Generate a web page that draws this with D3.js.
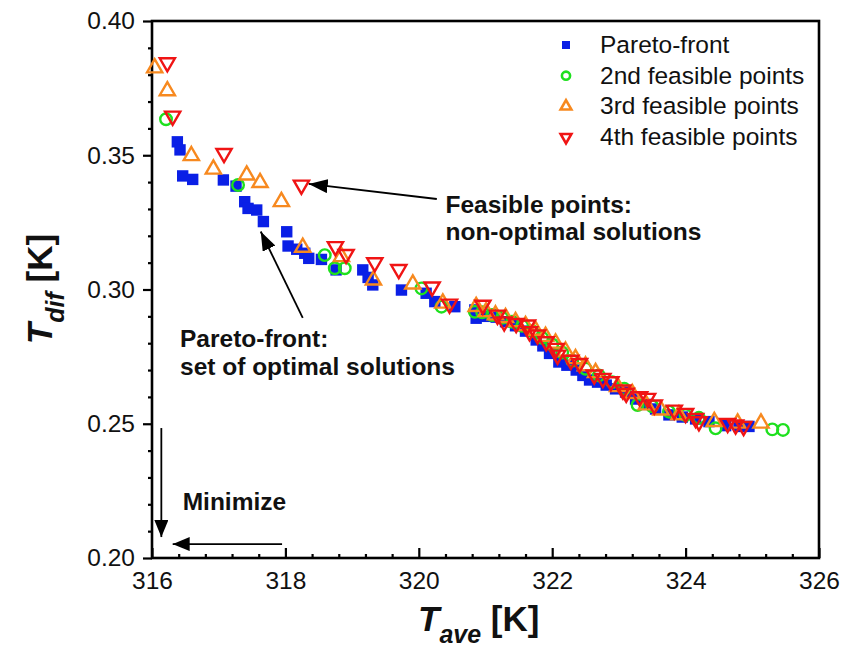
<!DOCTYPE html>
<html>
<head>
<meta charset="utf-8">
<script src="https://cdn.jsdelivr.net/npm/d3@7/dist/d3.min.js"></script>
<style>
  html, body { margin: 0; padding: 0; background: #fff; }
  svg { display: block; font-family: "Liberation Sans", Arial, sans-serif; }
</style>
</head>
<body>
<svg id="chart" width="845" height="653"></svg>
<script>
// Pareto front (blue squares)
const paretoTave = [316.38, 316.42, 316.46, 316.61, 317.07, 317.26, 317.39, 317.44, 317.57, 317.67,
  318.02, 318.04, 318.17, 318.29, 318.35, 318.54, 318.76, 319.16, 319.24, 319.31,
  319.74, 320.11, 320.24, 320.54, 320.84, 320.86, 321.00, 321.16, 321.30, 321.45,
  321.60, 321.76, 321.86, 321.96, 322.10, 322.22, 322.36, 322.46, 322.56, 322.68,
  322.81, 322.95, 323.10, 323.25, 323.40, 323.55, 323.75, 323.95, 324.15, 324.35,
  324.60, 324.80, 324.95];
const paretoTdif = [0.3550, 0.3520, 0.3423, 0.3410, 0.3408, 0.3385, 0.3327, 0.3302, 0.3296, 0.3253,
  0.3215, 0.3162, 0.3150, 0.3135, 0.3116, 0.3112, 0.3073, 0.3073, 0.3045, 0.3017,
  0.2998, 0.2986, 0.2955, 0.2936, 0.2924, 0.2893, 0.2900, 0.2897, 0.2880, 0.2865,
  0.2845, 0.2812, 0.2790, 0.2762, 0.2730, 0.2718, 0.2700, 0.2680, 0.2663, 0.2655,
  0.2644, 0.2630, 0.2618, 0.2592, 0.2572, 0.2555, 0.2533, 0.2525, 0.2518, 0.2508,
  0.2493, 0.2490, 0.2490];

// 2nd feasible points (green circles)
const feas2Tave = [316.21, 317.29, 318.59, 318.74, 318.89, 320.04, 320.34, 320.84, 320.95, 321.10,
  321.25, 321.40, 321.55, 321.70, 321.85, 322.00, 322.15, 322.30, 322.50, 322.70,
  322.90, 323.08, 323.28, 323.50, 323.75, 324.00, 324.20, 324.45, 325.30, 325.46];
const feas2Tdif = [0.3634, 0.3389, 0.3128, 0.3079, 0.3079, 0.3004, 0.2936, 0.2917, 0.2915, 0.2905,
  0.2895, 0.2880, 0.2865, 0.2845, 0.2820, 0.2795, 0.2765, 0.2735, 0.2705, 0.2680,
  0.2655, 0.2630, 0.2570, 0.2565, 0.2545, 0.2532, 0.2522, 0.2483, 0.2479, 0.2477];

// 3rd feasible points (orange up-triangles)
const feas3Tave = [316.04, 316.23, 316.59, 316.92, 317.42, 317.62, 317.94, 318.26, 318.84, 319.32,
  319.91, 320.36, 320.86, 321.01, 321.15, 321.30, 321.45, 321.60, 321.75, 321.90,
  322.05, 322.20, 322.35, 322.50, 322.65, 322.98, 323.20, 323.41, 323.63, 323.90,
  324.43, 324.78, 325.13];
const feas3Tdif = [0.3825, 0.3740, 0.3498, 0.3448, 0.3426, 0.3398, 0.3327, 0.3157, 0.3122, 0.3035,
  0.3020, 0.2949, 0.2936, 0.2917, 0.2905, 0.2895, 0.2880, 0.2865, 0.2848, 0.2825,
  0.2800, 0.2770, 0.2742, 0.2715, 0.2690, 0.2638, 0.2612, 0.2570, 0.2551, 0.2533,
  0.2508, 0.2502, 0.2502];

// 4th feasible points (red down-triangles)
const feas4Tave = [316.23, 316.31, 317.08, 318.24, 318.75, 318.91, 319.34, 319.70, 320.20, 320.46,
  320.96, 321.18, 321.28, 321.46, 321.63, 321.66, 321.78, 321.91, 322.06, 322.08,
  322.28, 322.41, 322.63, 322.76, 322.88, 323.06, 323.11, 323.31, 323.43, 323.53,
  323.83, 324.00, 324.15, 324.20, 324.63, 324.75, 324.87];
const feas4Tdif = [0.3845, 0.3646, 0.3507, 0.3389, 0.3160, 0.3131, 0.3100, 0.3075, 0.3010, 0.2946,
  0.2942, 0.2905, 0.2880, 0.2874, 0.2868, 0.2843, 0.2831, 0.2806, 0.2781, 0.2756,
  0.2737, 0.2725, 0.2682, 0.2669, 0.2657, 0.2626, 0.2614, 0.2601, 0.2595, 0.2570,
  0.2551, 0.2539, 0.2520, 0.2508, 0.2502, 0.2496, 0.2490];

const xTicks = [316, 318, 320, 322, 324, 326];
const yTicks = [0.20, 0.25, 0.30, 0.35, 0.40];
const seriesNames = ["Pareto-front", "2nd feasible points", "3rd feasible points", "4th feasible points"];
const seriesColors = ["#0a1fe6", "#1ee01e", "#f7891f", "#f01414"];

const svg = d3.select("#chart");
const x = d3.scaleLinear().domain([316, 326]).range([152, 819]);
const y = d3.scaleLinear().domain([0.20, 0.40]).range([558, 21]);

const zip = (a, b) => a.map((v, i) => [v, b[i]]);
const series = [
  { name: seriesNames[0], color: seriesColors[0], kind: "square", pts: zip(paretoTave, paretoTdif) },
  { name: seriesNames[1], color: seriesColors[1], kind: "circle", pts: zip(feas2Tave, feas2Tdif) },
  { name: seriesNames[2], color: seriesColors[2], kind: "up", pts: zip(feas3Tave, feas3Tdif) },
  { name: seriesNames[3], color: seriesColors[3], kind: "down", pts: zip(feas4Tave, feas4Tdif) }
];

function symbolPath(kind, scale) {
  if (kind === "square") return d3.symbol(d3.symbolSquare, 130 * scale)();
  if (kind === "circle") return d3.symbol(d3.symbolCircle, 105 * scale)();
  return d3.symbol(d3.symbolTriangle, 100 * scale)();
}

// axes with major and minor ticks
const xMinor = d3.range(316, 326.001, 0.4).filter(v => Math.abs(v / 2 - Math.round(v / 2)) > 1e-6);
const yMinor = d3.range(0.20, 0.4001, 0.01).filter(v => Math.abs(v / 0.05 - Math.round(v / 0.05)) > 1e-6);

const gx = svg.append("g").attr("transform", "translate(0,558)")
  .call(d3.axisBottom(x).tickValues(xTicks).tickFormat(d3.format("d"))
    .tickSizeInner(-10).tickSizeOuter(0).tickPadding(14));
svg.append("g").attr("transform", "translate(0,558)")
  .call(d3.axisBottom(x).tickValues(xMinor).tickFormat("").tickSizeInner(-4).tickSizeOuter(0))
  .select(".domain").remove();
const gy = svg.append("g").attr("transform", "translate(152,0)")
  .call(d3.axisLeft(y).tickValues(yTicks).tickFormat(d3.format(".2f"))
    .tickSizeInner(9).tickSizeOuter(0).tickPadding(8));
svg.append("g").attr("transform", "translate(152,0)")
  .call(d3.axisLeft(y).tickValues(yMinor).tickFormat("").tickSizeInner(4).tickSizeOuter(0))
  .select(".domain").remove();
[gx, gy].forEach(g => g.select(".domain").remove());
svg.selectAll(".tick line").attr("stroke", "#000").attr("stroke-width", 2.2);
svg.selectAll(".tick text").attr("font-size", 24.5).attr("fill", "#111")
  .attr("font-family", "\"Liberation Sans\", Arial, sans-serif");

// frame
svg.append("rect").attr("x", x(316)).attr("y", y(0.40))
  .attr("width", x(326) - x(316)).attr("height", y(0.20) - y(0.40))
  .attr("fill", "none").attr("stroke", "#000").attr("stroke-width", 2.6);

// data markers
const plot = svg.append("g");
series.forEach(s => {
  const g = plot.append("g");
  g.selectAll("path").data(s.pts).join("path")
    .attr("d", symbolPath(s.kind, 1))
    .attr("transform", d => `translate(${x(d[0])},${y(d[1])})` + (s.kind === "down" ? " rotate(180)" : ""))
    .attr("fill", s.kind === "square" ? s.color : "none")
    .attr("stroke", s.kind === "square" ? "none" : s.color)
    .attr("stroke-width", 2.4);
});

// legend
const legend = svg.append("g");
series.forEach((s, i) => {
  const cy = 45 + i * 30.7;
  legend.append("path")
    .attr("d", symbolPath(s.kind, 0.5))
    .attr("transform", `translate(566,${cy})` + (s.kind === "down" ? " rotate(180)" : ""))
    .attr("fill", s.kind === "square" ? s.color : "none")
    .attr("stroke", s.kind === "square" ? "none" : s.color)
    .attr("stroke-width", 2.6);
  legend.append("text").attr("x", 600).attr("y", cy + 8)
    .attr("font-size", 24.5).attr("fill", "#111").text(s.name);
});

// axis titles
const xt = svg.append("text").attr("x", 418).attr("y", 631).attr("font-weight", "bold").attr("fill", "#111");
xt.append("tspan").attr("font-size", 35).attr("font-style", "italic").text("T");
xt.append("tspan").attr("font-size", 25).attr("font-style", "italic").attr("dy", 12).text("ave");
xt.append("tspan").attr("font-size", 35).attr("dy", -12).text(" [K]");

const yt = svg.append("text").attr("transform", "translate(52,289) rotate(-90)")
  .attr("text-anchor", "middle").attr("font-weight", "bold").attr("fill", "#111");
yt.append("tspan").attr("font-size", 35).attr("font-style", "italic").text("T");
yt.append("tspan").attr("font-size", 25).attr("font-style", "italic").attr("dy", 12).text("dif");
yt.append("tspan").attr("font-size", 35).attr("dy", -12).text(" [K]");

// annotations
const defs = svg.append("defs");
function head(id, len, wid) {
  defs.append("marker").attr("id", id).attr("markerUnits", "userSpaceOnUse")
    .attr("viewBox", `${-len} ${-wid / 2} ${len} ${wid}`)
    .attr("refX", 0).attr("refY", 0).attr("markerWidth", len).attr("markerHeight", wid)
    .attr("orient", "auto")
    .append("path").attr("d", `M0,0L${-len},${-wid / 2}L${-len},${wid / 2}Z`).attr("fill", "#000");
}
head("ah", 19, 14);
head("ahs", 17, 14);

const arrows = [
  { from: [320.27, 0.3337], to: [318.35, 0.3393], m: "ah" },
  { from: [318.26, 0.2894], to: [317.63, 0.3216], m: "ah" },
  { from: [316.14, 0.2484], to: [316.14, 0.2078], m: "ahs" },
  { from: [317.95, 0.2052], to: [316.31, 0.2052], m: "ahs" }
];
arrows.forEach(a => {
  svg.append("line")
    .attr("x1", x(a.from[0])).attr("y1", y(a.from[1]))
    .attr("x2", x(a.to[0])).attr("y2", y(a.to[1]))
    .attr("stroke", "#000").attr("stroke-width", 1.8)
    .attr("marker-end", `url(#${a.m})`);
});

const notes = [
  { t: "Feasible points:", at: [320.4, 0.3286] },
  { t: "non-optimal solutions", at: [320.4, 0.3186] },
  { t: "Pareto-front:", at: [316.42, 0.2785] },
  { t: "set of optimal solutions", at: [316.42, 0.2682] },
  { t: "Minimize", at: [316.46, 0.2178] }
];
notes.forEach(n => {
  svg.append("text").attr("x", x(n.at[0])).attr("y", y(n.at[1]))
    .attr("font-size", 24.5).attr("font-weight", "bold").attr("fill", "#111").text(n.t);
});
</script>
</body>
</html>
